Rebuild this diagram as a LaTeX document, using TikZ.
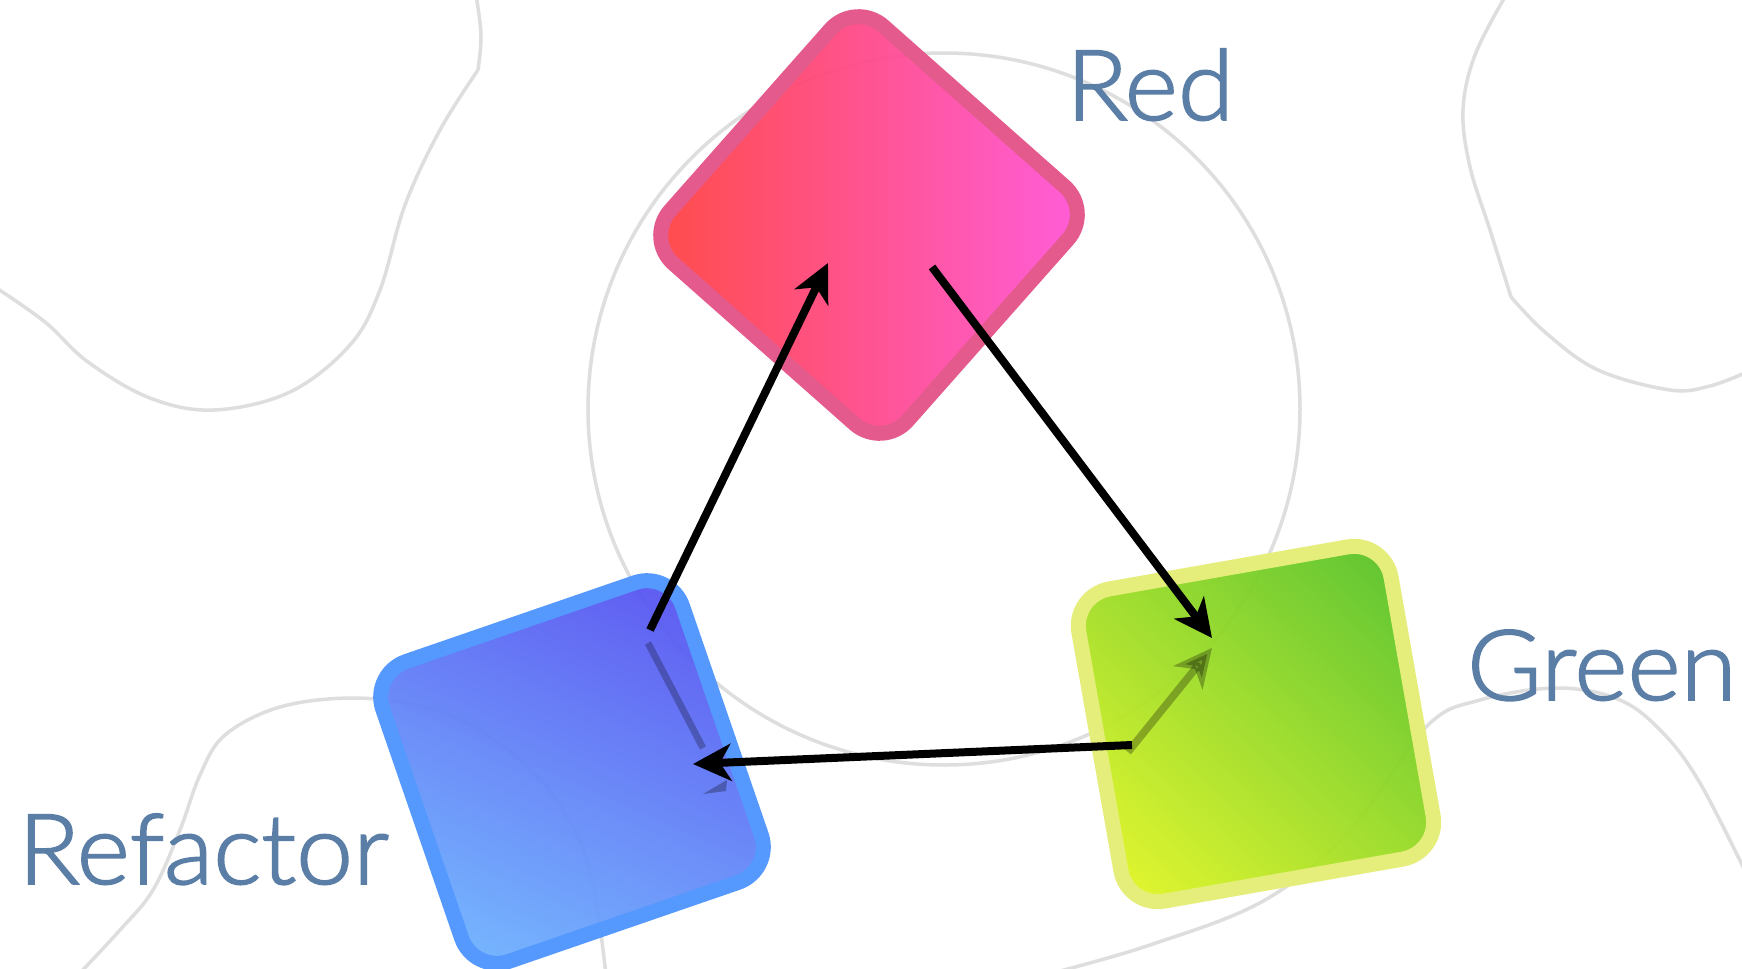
\documentclass[tikz,border=0pt]{standalone}
\usepackage{fontspec}
\newfontfamily\lblfont[FakeStretch=1.04,FakeBold=1.8]{Lato Light}
\usetikzlibrary{arrows.meta,calc}
\definecolor{bgline}{RGB}{222,222,222}
\definecolor{lblcol}{RGB}{90,126,166}
\definecolor{redA}{RGB}{255,62,40}
\definecolor{redB}{RGB}{255,86,240}
\definecolor{redS}{RGB}{229,90,140}
\definecolor{bluA}{RGB}{84,74,240}
\definecolor{bluB}{RGB}{112,186,255}
\definecolor{bluS}{RGB}{85,153,255}
\definecolor{grnA}{RGB}{76,190,40}
\definecolor{grnB}{RGB}{236,250,34}
\definecolor{grnS}{RGB}{229,238,122}
\newcommand\paintsq[4]{%
  \begin{scope}
    \clip[rounded corners=18.75pt] (#1.north) -- (#1.north east) -- (#1.south east) -- (#1.south west) -- (#1.north west) -- cycle;
    \shade[#2, fill opacity=0.94] ($(#1.center)+(-#3,-#3)$) rectangle ($(#1.center)+(#3,#3)$);
  \end{scope}
  \draw[sqstroke, draw=#4] (#1.north) -- (#1.north east) -- (#1.south east) -- (#1.south west) -- (#1.north west) -- cycle;
}
\begin{document}
\begin{tikzpicture}[x=0.5pt,y=-0.5pt,
  sqnode/.style={rectangle, draw=none, minimum size=158.5pt, outer sep=0pt, inner sep=0pt},
  bgcurve/.style={draw=bgline, line width=1.75pt},
  sqstroke/.style={line width=7.5pt, rounded corners=18.75pt, line join=round},
  flow/.style={line width=4pt, draw=black, -{Stealth[length=19pt,width=18.5pt,inset=5.5pt]}},
  shadowarrow/.style={line width=3.8pt, draw=black, opacity=0.28, -{Stealth[length=19pt,width=18.5pt,inset=5.5pt]}},
  shadowline/.style={line width=3.4pt, draw=black, opacity=0.26},
  lbltext/.style={text=lblcol, font=\lblfont\fontsize{49pt}{55pt}\selectfont, anchor=base west, inner sep=0pt, outer sep=0pt}
]
\fill[white] (0,0) rectangle (1742,969);
\useasboundingbox (0,0) rectangle (1742,969);

% background curves
\draw[bgcurve] plot[smooth, tension=0.6] coordinates {(-5,287) (45,322) (88,362) (150,398) (214,410) (290,392) (350,345) (380,290) (405,205) (440,130) (478,70)};
\draw[bgcurve] plot[smooth, tension=0.6] coordinates {(478,70) (481,35) (476,-5)};
\draw[bgcurve] plot[smooth, tension=0.6] coordinates {(1506,-5) (1475,55) (1463,110) (1470,167) (1490,230) (1511,297)};
\draw[bgcurve] plot[smooth, tension=0.6] coordinates {(1511,297) (1546,333) (1598,370) (1670,390) (1710,386) (1747,372)};
\draw[bgcurve] (944,409) circle[radius=356];
\draw[bgcurve] plot[smooth, tension=0.6] coordinates {(78,975) (120,930) (153,890) (180,830) (200,775) (225,735) (280,707) (352,698) (420,706) (470,725) (520,760) (560,805) (590,870) (606,975)};
\draw[bgcurve] plot[smooth, tension=0.6] coordinates {(1045,975) (1150,945) (1265,900) (1350,830) (1426,727) (1480,700) (1558,688) (1620,700) (1663,733) (1700,783) (1747,875)};

% squares
\node[sqnode, rotate=-41.5] (red) at (869,225) {};
\node[sqnode, rotate=19] (blue) at (572,772) {};
\node[sqnode, rotate=10] (green) at (1256,724) {};
\paintsq{red}{left color=redA, right color=redB}{280}{redS}
\paintsq{blue}{top color=bluA, bottom color=bluB, shading angle=-24}{250}{bluS}
\paintsq{green}{top color=grnA, bottom color=grnB, shading angle=-43}{250}{grnS}

% arrow shadows
\coordinate (gShA) at (1128,752);
\coordinate (gShB) at (1212,648);
\draw[shadowarrow] (gShA) -- (gShB);
\coordinate (bShA) at (648,643);
\coordinate (bShB) at (703,748);
\draw[shadowline] (bShA) -- (bShB);
\fill[black, opacity=0.28] (703,794) -- (727,780) -- (726,791) -- cycle;

% arrows
\coordinate (bOut) at (650,630);
\coordinate (rIn) at (828,263);
\coordinate (rOut) at (932,267);
\coordinate (gIn) at (1212,638);
\coordinate (gOut) at (1132,745);
\coordinate (bIn) at (693,764);
\draw[flow] (bOut) -- (rIn);
\draw[flow] (rOut) -- (gIn);
\draw[flow] (gOut) -- (bIn);

% labels
\node[lbltext] (lred) at (1066,120) {Red};
\node[lbltext] (lgreen) at (1467,700) {Green};
\node[lbltext] (lref) at (18,884) {Refactor};
\end{tikzpicture}
\end{document}
